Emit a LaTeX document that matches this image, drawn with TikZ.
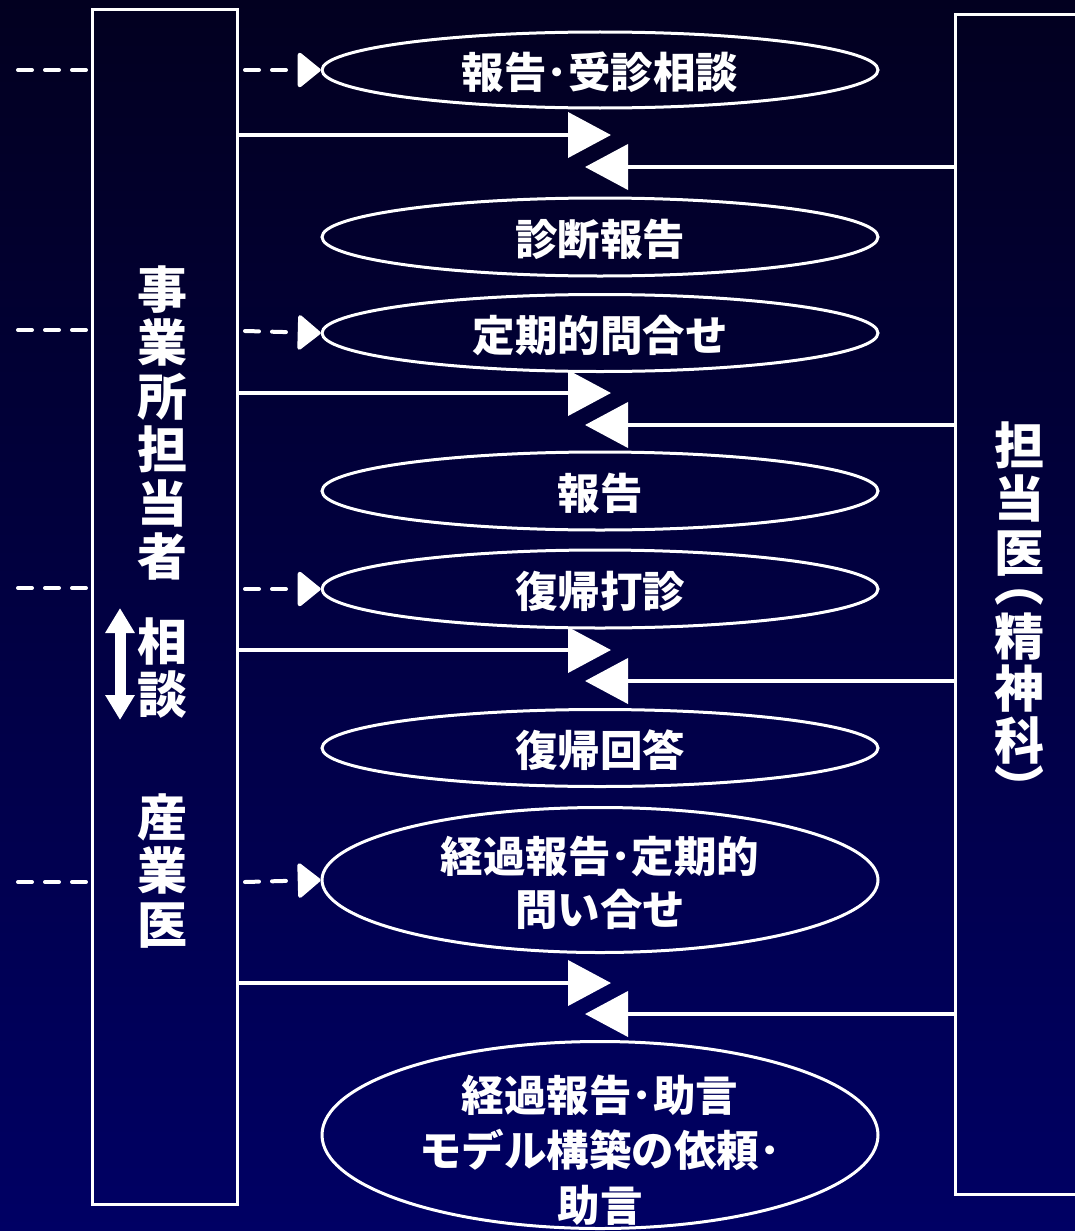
\documentclass[tikz,border=0pt]{standalone}
\usepackage{fontspec}
\usepackage{graphicx}
\setmainfont{Noto Sans CJK JP}
\usetikzlibrary{arrows.meta,shapes.geometric}
\definecolor{bgtop}{RGB}{2,0,32}
\definecolor{bgbot}{RGB}{0,0,100}
\begin{document}
\begin{tikzpicture}[x=1pt,y=-1pt,
  box/.style={draw=white, line width=3pt, inner sep=0pt},
  oval/.style={ellipse, draw=white, line width=3pt, minimum width=556pt, minimum height=78pt, inner sep=0pt},
  lbl/.style={text=white, font=\fontsize{42.5}{53}\selectfont\bfseries, align=center, inner sep=0pt},
  vlbl/.style={text=white, font=\fontsize{50}{53.5}\selectfont\bfseries, align=center, inner sep=0pt},
  sarrow/.style={draw=white, line width=4pt, -{Triangle[length=43pt,width=45pt]}},
  darrow/.style={draw=white, line width=4pt, dash pattern=on 14pt off 13pt, line cap=round, -{Triangle[length=24pt,width=38pt,round=false]}},
  dline/.style={draw=white, line width=4pt, dash pattern=on 14pt off 13pt, line cap=round},
  dbl/.style={draw=white, line width=11pt, {Triangle[length=25pt,width=28pt]}-{Triangle[length=25pt,width=28pt]}}
]
\useasboundingbox (0,0) rectangle (1075,1231);
\shade[top color=bgtop, bottom color=bgbot] (0,0) rectangle (1075,1231);

% side boxes
\node[box, minimum width=145pt, minimum height=1194pt] (L) at (164.5,607) {};
\node[box, minimum width=145pt, minimum height=1179pt] (R) at (1027.5,604.5) {};

% left box texts
\node[vlbl] (tL1) at (162,423) {事\\業\\所\\担\\当\\者};
\node[vlbl] (tL2) at (162,668) {相\\談};
\node[vlbl] (tL3) at (162,871) {産\\業\\医};
\coordinate (ua) at (120,608);
\coordinate (ub) at (120,720);
\draw[dbl] (ua) -- (ub);

% right box texts
\node[vlbl] (tR1) at (1019,499) {担\\当\\医};
\node[vlbl] (pR1) at (1019,597) {\raisebox{39.5pt}[7pt][7pt]{\rotatebox{-90}{（}}};
\node[vlbl, font=\fontsize{50}{52}\selectfont\bfseries] (tR2) at (1019,689) {精\\神\\科};
\node[vlbl] (pR2) at (1019,774) {\raisebox{10.5pt}[7pt][7pt]{\rotatebox{-90}{）}}};

% ellipses
\node[oval, minimum height=76pt] (e1) at (600,70) {};
\node[oval] (e2) at (600,237) {};
\node[oval, minimum height=77pt] (e3) at (600,333) {};
\node[oval] (e4) at (600,491) {};
\node[oval] (e5) at (600,589) {};
\node[oval, minimum height=77pt] (e6) at (600,748) {};
\node[oval, minimum height=145pt] (e7) at (600,880) {};
\node[oval, minimum height=187pt] (e8) at (600,1135) {};

\node[lbl] (t1) at (600,72) {報告･受診相談};
\node[lbl] (t2) at (600,239) {診断報告};
\node[lbl] (t3) at (600,335) {定期的問合せ};
\node[lbl] (t4) at (600,493) {報告};
\node[lbl] (t5) at (600,591) {復帰打診};
\node[lbl] (t6) at (600,750) {復帰回答};
\node[lbl] (t7) at (600,883) {経過報告･定期的\hspace{28pt}\\問い合せ};
\node[lbl, font=\fontsize{42.5}{55}\selectfont\bfseries] (t8) at (600,1150) {経過報告･助言\\モデル構築の依頼･\\助言};

% left dashed stubs
\coordinate (s1) at (18,70);
\coordinate (s2) at (18,330);
\coordinate (s3) at (18,588);
\coordinate (s4) at (18,882);
\draw[dline] (s1) -- (L.west |- s1);
\draw[dline] (s2) -- (L.west |- s2);
\draw[dline] (s3) -- (L.west |- s3);
\draw[dline] (s4) -- (L.west |- s4);

% dashed arrows to ellipses
\coordinate (d1) at (245,70);
\coordinate (d2) at (245,331);
\coordinate (d3) at (245,589);
\coordinate (d4) at (245,882);
\draw[darrow] (d1) -- (e1.west);
\draw[darrow] (d2) -- (e3.west);
\draw[darrow] (d3) -- (e5.west);
\draw[darrow] (d4) -- (e7.west);

% solid arrows left -> middle
\coordinate (a1) at (611,135);
\coordinate (a2) at (611,393);
\coordinate (a3) at (611,650);
\coordinate (a4) at (611,983);
\draw[sarrow] (L.east |- a1) -- (a1);
\draw[sarrow] (L.east |- a2) -- (a2);
\draw[sarrow] (L.east |- a3) -- (a3);
\draw[sarrow] (L.east |- a4) -- (a4);

% return arrows right -> middle
\coordinate (b1) at (585,167);
\coordinate (b2) at (585,425);
\coordinate (b3) at (585,681);
\coordinate (b4) at (585,1014);
\draw[sarrow] (R.west |- b1) -- (b1);
\draw[sarrow] (R.west |- b2) -- (b2);
\draw[sarrow] (R.west |- b3) -- (b3);
\draw[sarrow] (R.west |- b4) -- (b4);
\end{tikzpicture}
\end{document}
